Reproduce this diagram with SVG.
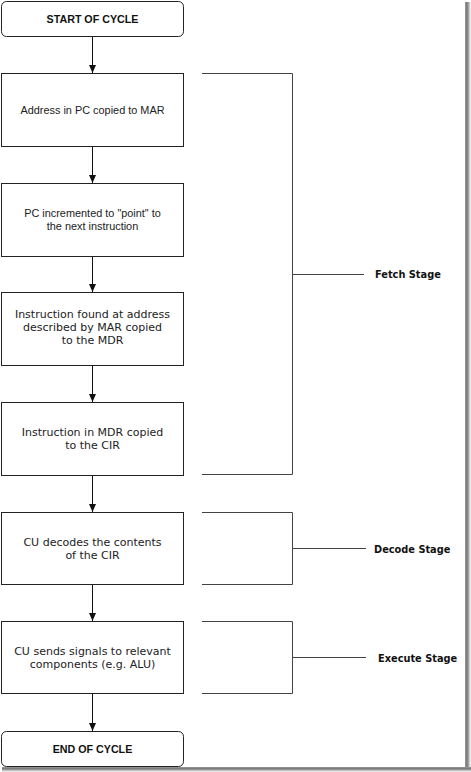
<svg xmlns="http://www.w3.org/2000/svg" width="471" height="772" viewBox="0 0 471 772">
<defs>
<style>
.box{fill:#fff;stroke:#222;stroke-width:1}
.arial{font-family:"Liberation Sans",Arial,sans-serif;font-size:10.9px;fill:#222;text-anchor:middle}
.bold{font-family:"Liberation Sans",Arial,sans-serif;font-size:10.7px;font-weight:bold;fill:#111;text-anchor:middle}
.tah{font-family:"DejaVu Sans",Verdana,sans-serif;font-size:11px;fill:#222;text-anchor:middle}
.stage{font-family:"DejaVu Sans",Verdana,sans-serif;font-size:9.8px;font-weight:bold;fill:#111}
.conn{stroke:#111;stroke-width:1;fill:none}
.br{stroke:#444;stroke-width:1;fill:none}
</style>
<marker id="ah" viewBox="0 0 8 8" refX="8" refY="4" markerWidth="8" markerHeight="8" markerUnits="userSpaceOnUse" orient="auto">
<path d="M0,0.5 L8,4 L0,7.5 Z" fill="#111"/>
</marker>
<linearGradient id="shR" x1="0" y1="0" x2="1" y2="0">
<stop offset="0" stop-color="#999"/>
<stop offset="0.35" stop-color="#777"/>
<stop offset="1" stop-color="#fff"/>
</linearGradient>
<linearGradient id="shB" x1="0" y1="0" x2="0" y2="1">
<stop offset="0" stop-color="#999"/>
<stop offset="0.35" stop-color="#777"/>
<stop offset="1" stop-color="#fff"/>
</linearGradient>
</defs>
<rect width="471" height="772" fill="#fff"/>
<rect x="465" y="2" width="6" height="770" fill="url(#shR)"/>
<rect x="2" y="767" width="469" height="5" fill="url(#shB)"/>

<g id="start"><rect class="box" x="1.5" y="1.5" width="182" height="35" rx="5"/><text class="bold" x="92.5" y="22.5">START OF CYCLE</text></g>
<g id="n1"><rect class="box" x="1.5" y="73.5" width="182" height="73"/><text class="arial" x="92.5" y="114">Address in PC copied to MAR</text></g>
<g id="n2"><rect class="box" x="1.5" y="183.5" width="182" height="73"/><text class="arial" x="92.5" y="217">PC incremented to "point" to</text><text class="arial" x="92.5" y="229.5">the next instruction</text></g>
<g id="n3"><rect class="box" x="1.5" y="292.5" width="182" height="73"/><text class="tah" x="92.5" y="318">Instruction found at address</text><text class="tah" x="92.5" y="331">described by MAR copied</text><text class="tah" x="92.5" y="344">to the MDR</text></g>
<g id="n4"><rect class="box" x="1.5" y="402.5" width="182" height="73"/><text class="tah" x="92.5" y="436">Instruction in MDR copied</text><text class="tah" x="92.5" y="448.5">to the CIR</text></g>
<g id="n5"><rect class="box" x="1.5" y="512.5" width="182" height="72"/><text class="tah" x="92.5" y="546">CU decodes the contents</text><text class="tah" x="92.5" y="558.5">of the CIR</text></g>
<g id="n6"><rect class="box" x="1.5" y="621.5" width="182" height="72"/><text class="tah" x="92.5" y="655">CU sends signals to relevant</text><text class="tah" x="92.5" y="667.5">components (e.g. ALU)</text></g>
<g id="end"><rect class="box" x="1.5" y="731.5" width="182" height="35" rx="5"/><text class="bold" x="92.5" y="752.5">END OF CYCLE</text></g>

<g id="connectors">
<line class="conn" x1="92.5" y1="37" x2="92.5" y2="73" marker-end="url(#ah)"/>
<line class="conn" x1="92.5" y1="147" x2="92.5" y2="183" marker-end="url(#ah)"/>
<line class="conn" x1="92.5" y1="257" x2="92.5" y2="292" marker-end="url(#ah)"/>
<line class="conn" x1="92.5" y1="366" x2="92.5" y2="402" marker-end="url(#ah)"/>
<line class="conn" x1="92.5" y1="476" x2="92.5" y2="512" marker-end="url(#ah)"/>
<line class="conn" x1="92.5" y1="585" x2="92.5" y2="621" marker-end="url(#ah)"/>
<line class="conn" x1="92.5" y1="694" x2="92.5" y2="731" marker-end="url(#ah)"/>
</g>

<g id="fetch">
<path class="br" d="M202,73.5 H292.5 V474.5 H202 M292.5,274.5 H364"/>
<text class="stage" x="375" y="278">Fetch Stage</text>
</g>
<g id="decode">
<path class="br" d="M202,512.5 H292.5 V584.5 H202 M292.5,548.5 H366"/>
<text class="stage" x="374" y="552.5">Decode Stage</text>
</g>
<g id="execute">
<path class="br" d="M202,621.5 H292.5 V693.5 H202 M292.5,657.5 H366"/>
<text class="stage" x="378" y="662">Execute Stage</text>
</g>
</svg>
